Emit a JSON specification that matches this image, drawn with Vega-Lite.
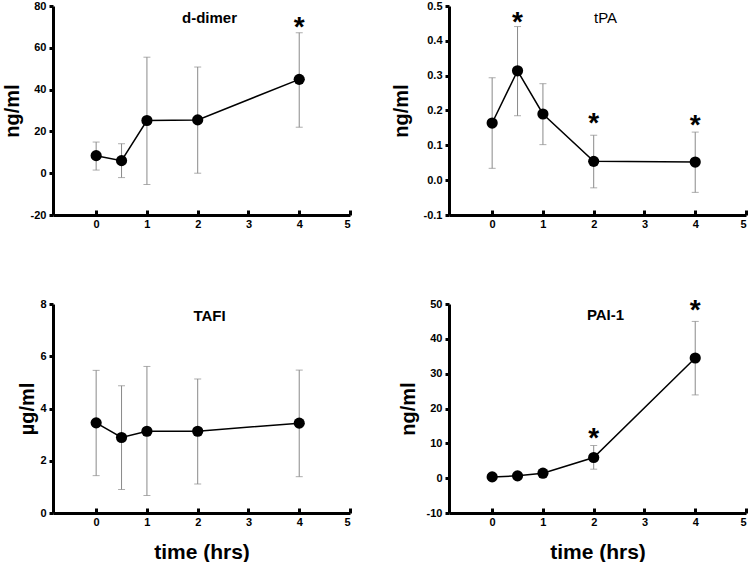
{
  "$schema": "https://vega.github.io/schema/vega-lite/v6.json",
  "padding": {"left": 2, "top": 0, "right": 0, "bottom": 0},
  "background": "white",
  "data": {"values": [
    {"panel": "d-dimer", "t": 0, "mean": 8.4, "lo": 1.5, "hi": 14.9, "star": null},
    {"panel": "d-dimer", "t": 0.5, "mean": 6.0, "lo": -2.1, "hi": 14.1, "star": null},
    {"panel": "d-dimer", "t": 1, "mean": 25.2, "lo": -5.4, "hi": 55.5, "star": null},
    {"panel": "d-dimer", "t": 2, "mean": 25.5, "lo": 0.0, "hi": 50.8, "star": null},
    {"panel": "d-dimer", "t": 4, "mean": 44.9, "lo": 22.0, "hi": 67.2, "star": 71.6},
    {"panel": "tPA", "t": 0, "mean": 0.164, "lo": 0.034, "hi": 0.294, "star": null},
    {"panel": "tPA", "t": 0.5, "mean": 0.314, "lo": 0.185, "hi": 0.441, "star": 0.463},
    {"panel": "tPA", "t": 1, "mean": 0.19, "lo": 0.102, "hi": 0.277, "star": null},
    {"panel": "tPA", "t": 2, "mean": 0.054, "lo": -0.022, "hi": 0.129, "star": 0.172},
    {"panel": "tPA", "t": 4, "mean": 0.052, "lo": -0.035, "hi": 0.138, "star": 0.168},
    {"panel": "TAFI", "t": 0, "mean": 3.45, "lo": 1.43, "hi": 5.46, "star": null},
    {"panel": "TAFI", "t": 0.5, "mean": 2.89, "lo": 0.9, "hi": 4.87, "star": null},
    {"panel": "TAFI", "t": 1, "mean": 3.13, "lo": 0.67, "hi": 5.61, "star": null},
    {"panel": "TAFI", "t": 2, "mean": 3.13, "lo": 1.11, "hi": 5.13, "star": null},
    {"panel": "TAFI", "t": 4, "mean": 3.44, "lo": 1.39, "hi": 5.47, "star": null},
    {"panel": "PAI-1", "t": 0, "mean": 0.37, "lo": 0.37, "hi": 0.37, "star": null},
    {"panel": "PAI-1", "t": 0.5, "mean": 0.66, "lo": 0.66, "hi": 0.66, "star": null},
    {"panel": "PAI-1", "t": 1, "mean": 1.43, "lo": 1.43, "hi": 1.43, "star": null},
    {"panel": "PAI-1", "t": 2, "mean": 5.93, "lo": 2.58, "hi": 9.37, "star": 12.4},
    {"panel": "PAI-1", "t": 4, "mean": 34.5, "lo": 23.9, "hi": 45.0, "star": 49.2}
  ]},
  "columns": 2,
  "bounds": "flush",
  "spacing": {"row": 89, "column": 99},
  "concat": [
    {
      "width": 297, "height": 209,
      "title": {"text": "d-dimer", "offset": -26, "dx": 8},
      "transform": [{"filter": "datum.panel === 'd-dimer'"}],
      "encoding": {
        "x": {"field": "t", "type": "quantitative", "scale": {"domain": [-0.85, 5], "nice": false, "zero": false}, "axis": {"values": [0, 1, 2, 3, 4, 5], "title": null, "grid": false, "domainWidth": 3, "domainColor": "black", "tickColor": "black", "tickWidth": 3, "tickSize": -5, "labelPadding": 8, "labelOverlap": false, "labelFont": "Liberation Sans", "labelFontWeight": "bold", "labelFontSize": 11, "labelColor": "black"}},
        "y": {"field": "mean", "type": "quantitative", "scale": {"domain": [-20, 80], "nice": false}, "axis": {"values": [-20, 0, 20, 40, 60, 80], "title": "ng/ml", "labelExpr": "replace(datum.label, '\u2212', '-')", "grid": false, "domainWidth": 3, "domainColor": "black", "tickColor": "black", "tickWidth": 3, "tickSize": 4, "labelPadding": 3, "labelOverlap": false, "labelFont": "Liberation Sans", "labelFontWeight": "bold", "labelFontSize": 11, "labelColor": "black", "titleFont": "Liberation Sans", "titleFontWeight": "bold", "titleFontSize": 20, "titleColor": "black", "titlePadding": 8}}
      },
      "layer": [
        {"mark": {"type": "rule", "color": "#8a8a8a", "strokeWidth": 1}, "encoding": {"y": {"field": "lo", "type": "quantitative"}, "y2": {"field": "hi"}}},
        {"mark": {"type": "tick", "orient": "horizontal", "color": "#8a8a8a", "thickness": 1, "size": 7}, "encoding": {"y": {"field": "lo", "type": "quantitative"}}},
        {"mark": {"type": "tick", "orient": "horizontal", "color": "#8a8a8a", "thickness": 1, "size": 7}, "encoding": {"y": {"field": "hi", "type": "quantitative"}}},
        {"mark": {"type": "line", "color": "black", "strokeWidth": 1.5}},
        {"mark": {"type": "circle", "color": "black", "opacity": 1, "size": 125}},
        {"transform": [{"filter": "datum.star != null"}], "mark": {"type": "text", "text": "*", "font": "Liberation Sans", "fontSize": 28, "fontWeight": "bold", "baseline": "middle", "dy": 4}, "encoding": {"y": {"field": "star", "type": "quantitative"}}}
      ]
    },
    {
      "width": 297, "height": 209,
      "title": {"text": "tPA", "offset": -26, "dx": 8, "fontWeight": "normal"},
      "transform": [{"filter": "datum.panel === 'tPA'"}],
      "encoding": {
        "x": {"field": "t", "type": "quantitative", "scale": {"domain": [-0.85, 5], "nice": false, "zero": false}, "axis": {"values": [0, 1, 2, 3, 4, 5], "title": null, "grid": false, "domainWidth": 3, "domainColor": "black", "tickColor": "black", "tickWidth": 3, "tickSize": -5, "labelPadding": 8, "labelOverlap": false, "labelFont": "Liberation Sans", "labelFontWeight": "bold", "labelFontSize": 11, "labelColor": "black"}},
        "y": {"field": "mean", "type": "quantitative", "scale": {"domain": [-0.1, 0.5], "nice": false}, "axis": {"values": [-0.1, 0, 0.1, 0.2, 0.3, 0.4, 0.5], "format": ".1f", "title": "ng/ml", "labelExpr": "replace(datum.label, '\u2212', '-')", "grid": false, "domainWidth": 3, "domainColor": "black", "tickColor": "black", "tickWidth": 3, "tickSize": 4, "labelPadding": 3, "labelOverlap": false, "labelFont": "Liberation Sans", "labelFontWeight": "bold", "labelFontSize": 11, "labelColor": "black", "titleFont": "Liberation Sans", "titleFontWeight": "bold", "titleFontSize": 20, "titleColor": "black", "titlePadding": 12}}
      },
      "layer": [
        {"mark": {"type": "rule", "color": "#8a8a8a", "strokeWidth": 1}, "encoding": {"y": {"field": "lo", "type": "quantitative"}, "y2": {"field": "hi"}}},
        {"mark": {"type": "tick", "orient": "horizontal", "color": "#8a8a8a", "thickness": 1, "size": 7}, "encoding": {"y": {"field": "lo", "type": "quantitative"}}},
        {"mark": {"type": "tick", "orient": "horizontal", "color": "#8a8a8a", "thickness": 1, "size": 7}, "encoding": {"y": {"field": "hi", "type": "quantitative"}}},
        {"mark": {"type": "line", "color": "black", "strokeWidth": 1.5}},
        {"mark": {"type": "circle", "color": "black", "opacity": 1, "size": 125}},
        {"transform": [{"filter": "datum.star != null"}], "mark": {"type": "text", "text": "*", "font": "Liberation Sans", "fontSize": 28, "fontWeight": "bold", "baseline": "middle", "dy": 4}, "encoding": {"y": {"field": "star", "type": "quantitative"}}}
      ]
    },
    {
      "width": 297, "height": 209,
      "title": {"text": "TAFI", "offset": -26, "dx": 8},
      "transform": [{"filter": "datum.panel === 'TAFI'"}],
      "encoding": {
        "x": {"field": "t", "type": "quantitative", "scale": {"domain": [-0.85, 5], "nice": false, "zero": false}, "axis": {"values": [0, 1, 2, 3, 4, 5], "title": "time (hrs)", "grid": false, "domainWidth": 3, "domainColor": "black", "tickColor": "black", "tickWidth": 3, "tickSize": -5, "labelPadding": 8, "labelOverlap": false, "labelFont": "Liberation Sans", "labelFontWeight": "bold", "labelFontSize": 11, "labelColor": "black", "titleFont": "Liberation Sans", "titleFontWeight": "bold", "titleFontSize": 21, "titleColor": "black", "titlePadding": 14}},
        "y": {"field": "mean", "type": "quantitative", "scale": {"domain": [0, 8], "nice": false}, "axis": {"values": [0, 2, 4, 6, 8], "title": "µg/ml", "grid": false, "domainWidth": 3, "domainColor": "black", "tickColor": "black", "tickWidth": 3, "tickSize": 4, "labelPadding": 3, "labelOverlap": false, "labelFont": "Liberation Sans", "labelFontWeight": "bold", "labelFontSize": 11, "labelColor": "black", "titleFont": "Liberation Sans", "titleFontWeight": "bold", "titleFontSize": 20, "titleColor": "black", "titlePadding": 2}}
      },
      "layer": [
        {"mark": {"type": "rule", "color": "#8a8a8a", "strokeWidth": 1}, "encoding": {"y": {"field": "lo", "type": "quantitative"}, "y2": {"field": "hi"}}},
        {"mark": {"type": "tick", "orient": "horizontal", "color": "#8a8a8a", "thickness": 1, "size": 7}, "encoding": {"y": {"field": "lo", "type": "quantitative"}}},
        {"mark": {"type": "tick", "orient": "horizontal", "color": "#8a8a8a", "thickness": 1, "size": 7}, "encoding": {"y": {"field": "hi", "type": "quantitative"}}},
        {"mark": {"type": "line", "color": "black", "strokeWidth": 1.5}},
        {"mark": {"type": "circle", "color": "black", "opacity": 1, "size": 125}}
      ]
    },
    {
      "width": 297, "height": 209,
      "title": {"text": "PAI-1", "offset": -26, "dx": 8},
      "transform": [{"filter": "datum.panel === 'PAI-1'"}],
      "encoding": {
        "x": {"field": "t", "type": "quantitative", "scale": {"domain": [-0.85, 5], "nice": false, "zero": false}, "axis": {"values": [0, 1, 2, 3, 4, 5], "title": "time (hrs)", "grid": false, "domainWidth": 3, "domainColor": "black", "tickColor": "black", "tickWidth": 3, "tickSize": -5, "labelPadding": 8, "labelOverlap": false, "labelFont": "Liberation Sans", "labelFontWeight": "bold", "labelFontSize": 11, "labelColor": "black", "titleFont": "Liberation Sans", "titleFontWeight": "bold", "titleFontSize": 21, "titleColor": "black", "titlePadding": 14}},
        "y": {"field": "mean", "type": "quantitative", "scale": {"domain": [-10, 50], "nice": false}, "axis": {"values": [-10, 0, 10, 20, 30, 40, 50], "title": "ng/ml", "labelExpr": "replace(datum.label, '\u2212', '-')", "grid": false, "domainWidth": 3, "domainColor": "black", "tickColor": "black", "tickWidth": 3, "tickSize": 4, "labelPadding": 3, "labelOverlap": false, "labelFont": "Liberation Sans", "labelFontWeight": "bold", "labelFontSize": 11, "labelColor": "black", "titleFont": "Liberation Sans", "titleFontWeight": "bold", "titleFontSize": 20, "titleColor": "black", "titlePadding": 8}}
      },
      "layer": [
        {"mark": {"type": "rule", "color": "#8a8a8a", "strokeWidth": 1}, "encoding": {"y": {"field": "lo", "type": "quantitative"}, "y2": {"field": "hi"}}},
        {"mark": {"type": "tick", "orient": "horizontal", "color": "#8a8a8a", "thickness": 1, "size": 7}, "encoding": {"y": {"field": "lo", "type": "quantitative"}}},
        {"mark": {"type": "tick", "orient": "horizontal", "color": "#8a8a8a", "thickness": 1, "size": 7}, "encoding": {"y": {"field": "hi", "type": "quantitative"}}},
        {"mark": {"type": "line", "color": "black", "strokeWidth": 1.5}},
        {"mark": {"type": "circle", "color": "black", "opacity": 1, "size": 125}},
        {"transform": [{"filter": "datum.star != null"}], "mark": {"type": "text", "text": "*", "font": "Liberation Sans", "fontSize": 28, "fontWeight": "bold", "baseline": "middle", "dy": 4}, "encoding": {"y": {"field": "star", "type": "quantitative"}}}
      ]
    }
  ],
  "config": {
    "view": {"stroke": null},
    "title": {"font": "Liberation Sans", "fontSize": 15, "fontWeight": "bold", "color": "black", "anchor": "middle", "baseline": "middle"}
  }
}
